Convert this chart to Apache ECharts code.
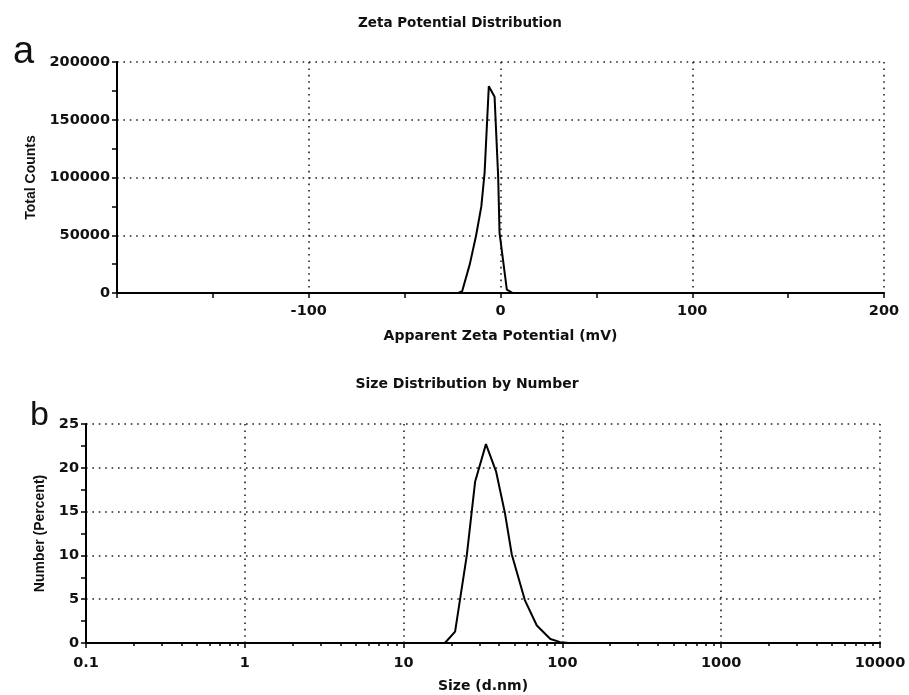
<!DOCTYPE html>
<html>
<head>
<meta charset="utf-8">
<script src="https://cdn.jsdelivr.net/npm/echarts@6/dist/echarts.min.js"></script>
<style>
html,body{margin:0;padding:0;background:#fff;}
#chart{width:909px;height:695px;}
</style>
</head>
<body>
<div id="chart"></div>
<script>
// ---- Data ----
var zetaX = [-200, -22, -20, -16, -12.7, -10, -8.3, -6.1, -3.1, -1.2, -0.5, 3.3, 6.4, 200];
var zetaY = [0, 0, 1500, 25000, 50000, 75000, 104000, 179000, 170000, 100000, 52000, 3000, 0, 0];

var sizeX = [0.1, 18.2, 21.1, 25, 28.2, 33, 38.2, 43.5, 48, 58, 69, 84, 97, 110, 10000];
var sizeY = [0, 0, 1.3, 10, 18.4, 22.7, 19.6, 14.8, 10.1, 4.9, 2.0, 0.45, 0.1, 0, 0];

var zetaTickLabels = ['-100', '0', '100', '200'];
var sizeTickLabels = ['0.1', '1', '10', '100', '1000', '10000'];
var sizeMinorMultipliers = [2, 3, 4, 5, 6, 7, 8, 9];
var sizeDecades = [0.1, 1, 10, 100, 1000];

function pairs(xs, ys) { return xs.map(function (x, i) { return [x, ys[i]]; }); }

var minorLogTicks = [];
sizeDecades.forEach(function (d) {
  sizeMinorMultipliers.forEach(function (m) { minorLogTicks.push(+(d * m).toPrecision(6)); });
});

var TXT = '#111';
var tickFont = { fontFamily: 'DejaVu Sans', fontWeight: 'bold', fontSize: 14.5, color: TXT };
var nameFont = { fontFamily: 'DejaVu Sans', fontWeight: 'bold', fontSize: 14, color: TXT };
var vNameFont = { fontFamily: 'Liberation Sans', fontWeight: 'bold', fontSize: 14, color: TXT };
var dotted = { color: '#222', width: 1.6, type: [1.6, 4.8] };
var tickLine = { color: '#000', width: 1.5 };

var chart = echarts.init(document.getElementById('chart'));
chart.setOption({
  animation: false,
  backgroundColor: '#fff',
  title: [
    { text: 'Zeta Potential Distribution', left: 455, top: 11, textAlign: 'center',
      textStyle: { fontFamily: 'DejaVu Sans', fontWeight: 'bold', fontSize: 13.5, color: TXT } },
    { text: 'Size Distribution by Number', left: 462, top: 372, textAlign: 'center',
      textStyle: { fontFamily: 'DejaVu Sans', fontWeight: 'bold', fontSize: 14, color: TXT } },
    { text: 'a', left: 8, top: 29,
      textStyle: { fontFamily: 'Liberation Sans', fontWeight: 'normal', fontSize: 38, color: TXT } },
    { text: 'b', left: 25, top: 394,
      textStyle: { fontFamily: 'Liberation Sans', fontWeight: 'normal', fontSize: 34, color: TXT } }
  ],
  grid: [
    { left: 117, top: 62, right: 25, height: 231, containLabel: false },
    { left: 86, top: 424, right: 29, height: 219, containLabel: false }
  ],
  xAxis: [
    {
      type: 'value', gridIndex: 0, min: -200, max: 200, interval: 100, position: 'bottom',
      axisLine: { onZero: false, lineStyle: { color: '#000', width: 2 } },
      axisTick: { show: true, length: 5, lineStyle: tickLine },
      minorTick: { show: true, splitNumber: 2, length: 5, lineStyle: tickLine },
      axisLabel: Object.assign({ margin: 11, formatter: function (v) {
        var s = String(v); return zetaTickLabels.indexOf(s) >= 0 ? s : ''; } }, tickFont),
      splitLine: { show: true, lineStyle: dotted },
      name: 'Apparent Zeta Potential (mV)', nameLocation: 'middle', nameGap: 36,
      nameTextStyle: nameFont
    },
    {
      type: 'log', gridIndex: 1, min: 0.1, max: 10000, logBase: 10, splitNumber: 5, position: 'bottom',
      axisLine: { onZero: false, lineStyle: { color: '#000', width: 2 } },
      axisTick: { show: true, length: 5, lineStyle: tickLine },
      axisLabel: Object.assign({ margin: 13, formatter: function (v) {
        var s = String(+(+v).toPrecision(6)); return sizeTickLabels.indexOf(s) >= 0 ? s : ''; } }, tickFont),
      splitLine: { show: true, lineStyle: dotted },
      name: 'Size (d.nm)', nameLocation: 'middle', nameGap: 36,
      nameTextStyle: nameFont
    },
    {
      type: 'log', gridIndex: 1, min: 0.1, max: 10000, logBase: 10, position: 'bottom', offset: 0,
      axisLine: { show: false, onZero: false },
      axisLabel: { show: false },
      splitLine: { show: false },
      axisTick: { show: true, length: 3, inside: false, customValues: minorLogTicks,
        lineStyle: tickLine }
    }
  ],
  yAxis: [
    {
      type: 'value', gridIndex: 0, min: 0, max: 200000, interval: 50000, position: 'left',
      axisLine: { show: true, onZero: false, lineStyle: { color: '#000', width: 2 } },
      axisTick: { show: true, length: 5, lineStyle: tickLine },
      minorTick: { show: true, splitNumber: 2, length: 5, lineStyle: tickLine },
      axisLabel: Object.assign({ margin: 7, formatter: function (v) { return String(v); } }, tickFont),
      splitLine: { show: true, lineStyle: dotted },
      name: 'Total Counts', nameLocation: 'middle', nameRotate: 90, nameGap: 77,
      nameTextStyle: vNameFont
    },
    {
      type: 'value', gridIndex: 1, min: 0, max: 25, interval: 5, position: 'left',
      axisLine: { show: true, onZero: false, lineStyle: { color: '#000', width: 2 } },
      axisTick: { show: true, length: 5, lineStyle: tickLine },
      minorTick: { show: true, splitNumber: 2, length: 5, lineStyle: tickLine },
      axisLabel: Object.assign({ margin: 7, formatter: function (v) { return String(v); } }, tickFont),
      splitLine: { show: true, lineStyle: dotted },
      name: 'Number (Percent)', nameLocation: 'middle', nameRotate: 90, nameGap: 39,
      nameTextStyle: vNameFont
    }
  ],
  series: [
    {
      type: 'line', xAxisIndex: 0, yAxisIndex: 0, data: pairs(zetaX, zetaY),
      showSymbol: false, symbol: 'none', smooth: false,
      lineStyle: { color: '#000', width: 2 }, z: 5
    },
    {
      type: 'line', xAxisIndex: 1, yAxisIndex: 1, data: pairs(sizeX, sizeY),
      showSymbol: false, symbol: 'none', smooth: false,
      lineStyle: { color: '#000', width: 2 }, z: 5
    }
  ]
});
</script>
</body>
</html>
